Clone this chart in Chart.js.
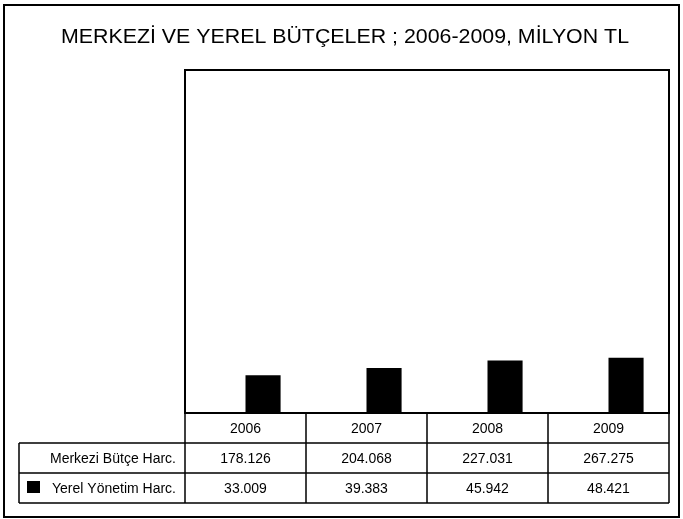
<!DOCTYPE html>
<html>
<head>
<meta charset="utf-8">
<script src="https://cdn.jsdelivr.net/npm/chart.js@4/dist/chart.umd.min.js"></script>
<style>
  html, body { margin: 0; padding: 0; background: #fff; }
  .container { width: 683px; height: 519px; position: relative; }
</style>
</head>
<body>
<div class="container"><canvas id="chart" width="683" height="519"></canvas></div>
<script>
var years = ['2006', '2007', '2008', '2009'];
var merkeziValues = [178.126, 204.068, 227.031, 267.275];
var yerelValues = [33.009, 39.383, 45.942, 48.421];
var merkeziLabel = 'Merkezi Bütçe Harc.';
var yerelLabel = 'Yerel Yönetim Harc.';
var titleText = 'MERKEZİ VE YEREL BÜTÇELER ; 2006-2009, MİLYON TL';

function fmt(v) {
    return v.toFixed(3);
}

// draws the title, the outer frame, the plot frame and the data table under the bars
var tablePlugin = {
    id: 'dataTable',
    afterDraw: function(chart) {
        var ctx = chart.ctx;
        var area = chart.chartArea;
        var x = chart.scales.x;
        var rowH = 30;
        var top = area.bottom;
        var tableLeft = 19;
        var rows = [top, top + rowH, top + rowH * 2, top + rowH * 3];

        ctx.save();
        ctx.strokeStyle = '#000';
        ctx.fillStyle = '#000';

        // title, stretched a little like the scan
        ctx.font = '21px "Liberation Sans", Arial, sans-serif';
        ctx.textBaseline = 'alphabetic';
        ctx.textAlign = 'left';
        var w = ctx.measureText(titleText).width;
        var sx = 568 / w;
        ctx.save();
        ctx.translate(61, 43);
        ctx.scale(sx, 1);
        ctx.fillText(titleText, 0, 0);
        ctx.restore();

        // outer frame
        ctx.lineWidth = 2;
        ctx.strokeRect(4, 5, 675, 512);

        // plot frame
        ctx.strokeRect(area.left, area.top, area.right - area.left, area.bottom - area.top);

        ctx.lineWidth = 1.5;
        ctx.beginPath();
        // column lines
        var step = x.getPixelForValue(1) - x.getPixelForValue(0);
        var edges = [area.left];
        for (var i = 0; i < years.length; i++) {
            edges.push(x.getPixelForValue(i) + step / 2);
        }
        edges[edges.length - 1] = area.right;
        for (var j = 0; j < edges.length; j++) {
            ctx.moveTo(edges[j], rows[0]);
            ctx.lineTo(edges[j], rows[3]);
        }
        ctx.moveTo(tableLeft, rows[1]);
        ctx.lineTo(tableLeft, rows[3]);
        // row lines
        for (var r = 1; r < rows.length; r++) {
            ctx.moveTo(tableLeft, rows[r]);
            ctx.lineTo(area.right, rows[r]);
        }
        ctx.stroke();

        ctx.font = '14px "Liberation Sans", Arial, sans-serif';
        ctx.textBaseline = 'middle';
        ctx.textAlign = 'center';
        for (var k = 0; k < years.length; k++) {
            var cx = (edges[k] + edges[k + 1]) / 2;
            ctx.fillText(years[k], cx, rows[0] + rowH / 2 + 1);
            ctx.fillText(fmt(merkeziValues[k]), cx, rows[1] + rowH / 2 + 1);
            ctx.fillText(fmt(yerelValues[k]), cx, rows[2] + rowH / 2 + 1);
        }

        ctx.textAlign = 'right';
        ctx.fillText(merkeziLabel, area.left - 9, rows[1] + rowH / 2 + 1);
        ctx.fillText(yerelLabel, area.left - 9, rows[2] + rowH / 2 + 1);

        // legend key for the black series
        ctx.fillRect(27, rows[2] + 8, 13, 12);
        ctx.restore();
    }
};

function drawChart() {
    var ctx = document.getElementById('chart').getContext('2d');
    new Chart(ctx, {
        type: 'bar',
        data: {
            labels: years,
            datasets: [{
                label: merkeziLabel,
                data: merkeziValues,
                backgroundColor: 'rgba(255,255,255,0)',
                borderWidth: 0
            }, {
                label: yerelLabel,
                data: yerelValues,
                backgroundColor: '#000',
                borderWidth: 0
            }]
        },
        options: {
            responsive: false,
            animation: false,
            layout: {
                padding: { left: 185, right: 14, top: 70, bottom: 106 }
            },
            datasets: {
                bar: { categoryPercentage: 0.58, barPercentage: 1 }
            },
            scales: {
                x: { display: false },
                y: { display: false, min: 0, max: 300 }
            },
            plugins: {
                legend: { display: false },
                tooltip: { enabled: false },
                title: { display: false }
            }
        },
        plugins: [tablePlugin]
    });
}

drawChart();
</script>
</body>
</html>
